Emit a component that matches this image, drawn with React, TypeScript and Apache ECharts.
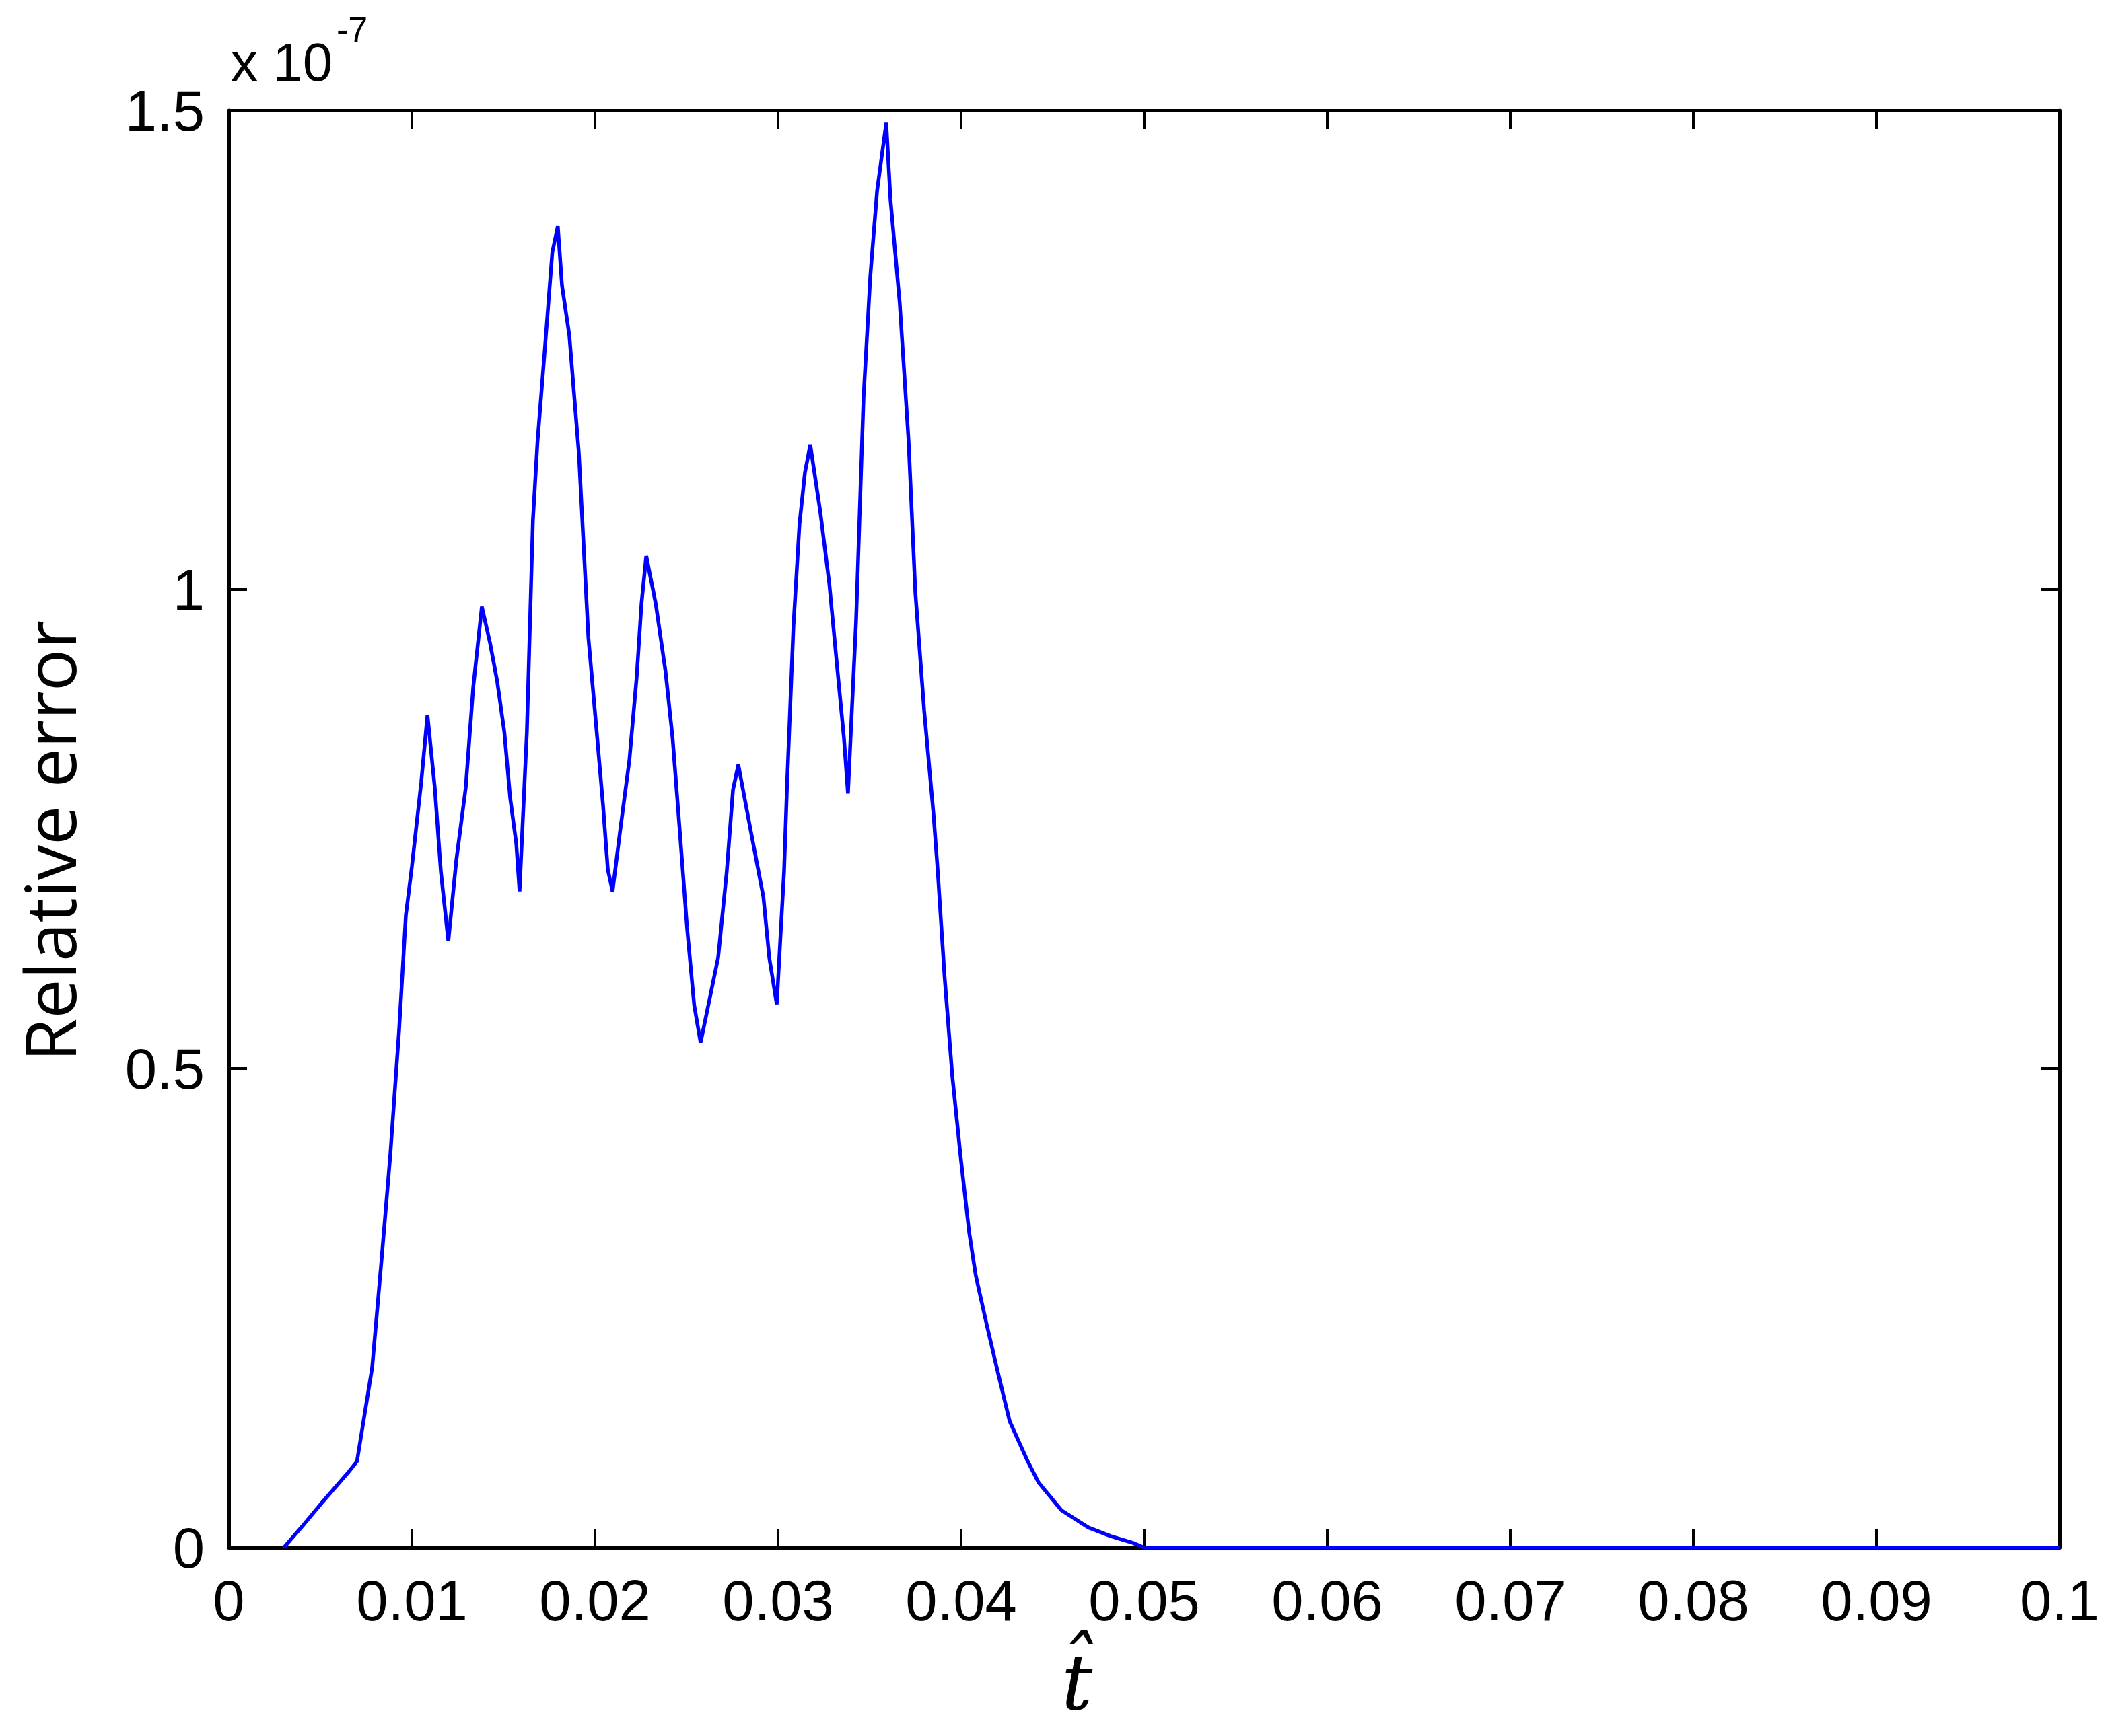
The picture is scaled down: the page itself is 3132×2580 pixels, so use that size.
import React, { useEffect, useRef } from "react";
import * as echarts from "echarts";

// time (t-hat) samples
const tValues: number[] = [
  0.003, 0.004, 0.005, 0.0065, 0.007, 0.00783, 0.00834, 0.00882, 0.0093, 0.00967,
  0.01, 0.01051, 0.01085, 0.01125, 0.01158, 0.01199, 0.01243, 0.01294, 0.01335, 0.01382,
  0.01427, 0.01466, 0.01505, 0.01537, 0.0157, 0.01588, 0.01628, 0.01661, 0.01686, 0.01727,
  0.01767, 0.01797, 0.0182, 0.0186, 0.01912, 0.01964, 0.02004, 0.02044, 0.0207, 0.02096,
  0.02136, 0.02188, 0.02228, 0.02254, 0.0228, 0.02332, 0.02385, 0.02424, 0.02464, 0.02503,
  0.02542, 0.02577, 0.02673, 0.0272, 0.02754, 0.02783, 0.02853, 0.0292, 0.02952, 0.02993,
  0.03033, 0.0305, 0.03084, 0.03117, 0.03147, 0.03176, 0.0323, 0.0328, 0.0332, 0.0336,
  0.03382, 0.03426, 0.03467, 0.03504, 0.03541, 0.03591, 0.03614, 0.03665, 0.03713, 0.0375,
  0.03798, 0.03849, 0.03873, 0.0391, 0.03952, 0.04, 0.04044, 0.0408, 0.04143, 0.04203,
  0.04265, 0.04364, 0.04423, 0.04548, 0.04695, 0.04816, 0.04938, 0.05, 0.1,
];

// relative error, in units of 1e-7
const errValues: number[] = [
  0, 0.022, 0.045, 0.078, 0.09, 0.188, 0.3, 0.41, 0.54, 0.66,
  0.711, 0.799, 0.869, 0.793, 0.706, 0.633, 0.718, 0.793, 0.898, 0.982,
  0.944, 0.904, 0.851, 0.782, 0.735, 0.685, 0.851, 1.072, 1.154, 1.253,
  1.352, 1.379, 1.317, 1.265, 1.142, 0.95, 0.863, 0.775, 0.708, 0.685,
  0.746, 0.822, 0.909, 0.985, 1.035, 0.985, 0.915, 0.845, 0.746, 0.647,
  0.566, 0.527, 0.616, 0.706, 0.791, 0.817, 0.746, 0.679, 0.616, 0.567,
  0.706, 0.8, 0.961, 1.068, 1.122, 1.151, 1.082, 1.006, 0.925, 0.845,
  0.787, 0.966, 1.2, 1.327, 1.416, 1.487, 1.407, 1.298, 1.155, 0.997,
  0.874, 0.766, 0.704, 0.595, 0.492, 0.403, 0.329, 0.284, 0.23, 0.181,
  0.132, 0.09, 0.068, 0.039, 0.021, 0.012, 0.005, 0, 0,
];

const xTickRange = { min: 0, max: 0.1, interval: 0.01 };
const yTickRange = { min: 0, max: 1.5, interval: 0.5 };

const TICK_FONT = "'Liberation Sans Narrow', 'Liberation Sans', Arial, sans-serif";

export default function App() {
  const ref = useRef<HTMLDivElement>(null);

  useEffect(() => {
    if (!ref.current) return;
    const chart = echarts.init(ref.current, undefined, { renderer: "svg" });

    const axisLine = { show: true, onZero: false, lineStyle: { color: "#000", width: 5 } };
    const axisTick = { show: true, inside: true, length: 27, lineStyle: { color: "#000", width: 4 } };
    const label = { color: "#000", fontSize: 85, fontFamily: TICK_FONT, margin: 36 };

    const data = tValues.map((t, i) => [t, errValues[i]]);

    chart.setOption({
      animation: false,
      backgroundColor: "#fff",
      grid: { left: 340, right: 72, top: 164, bottom: 280, containLabel: false },
      xAxis: [
        {
          type: "value",
          position: "bottom",
          ...xTickRange,
          axisLine,
          axisTick,
          axisLabel: label,
          splitLine: { show: false },
        },
        {
          type: "value",
          position: "top",
          ...xTickRange,
          axisLine,
          axisTick,
          axisLabel: { show: false },
          splitLine: { show: false },
        },
      ],
      yAxis: [
        {
          type: "value",
          position: "left",
          ...yTickRange,
          axisLine,
          axisTick,
          axisLabel: label,
          splitLine: { show: false },
        },
        {
          type: "value",
          position: "right",
          ...yTickRange,
          axisLine,
          axisTick,
          axisLabel: { show: false },
          splitLine: { show: false },
        },
      ],
      series: [
        {
          type: "line",
          xAxisIndex: 0,
          yAxisIndex: 0,
          data,
          showSymbol: false,
          symbol: "none",
          lineStyle: { color: "#0000ff", width: 5.5 },
          z: 5,
        },
      ],
      graphic: [
        {
          type: "text",
          x: 343,
          y: 92,
          style: {
            text: "x 10",
            fontSize: 80,
            fontFamily: TICK_FONT,
            fill: "#000",
            align: "left",
            verticalAlign: "middle",
          },
        },
        {
          type: "text",
          x: 500,
          y: 44,
          style: {
            text: "-7",
            fontSize: 52,
            fontFamily: TICK_FONT,
            fill: "#000",
            align: "left",
            verticalAlign: "middle",
          },
        },
        {
          type: "text",
          x: 72,
          y: 1250,
          rotation: Math.PI / 2,
          style: {
            text: "Relative error",
            fontSize: 104,
            fontFamily: "'Open Sans', 'Noto Sans', sans-serif",
            fill: "#000",
            align: "center",
            verticalAlign: "middle",
          },
        },
        {
          type: "text",
          x: 1600,
          y: 2500,
          style: {
            text: "t\u0302",
            fontSize: 115,
            fontStyle: "italic",
            fontFamily: "'DejaVu Serif', 'Liberation Serif', serif",
            fill: "#000",
            align: "center",
            verticalAlign: "middle",
          },
        },
      ],
    });

    return () => chart.dispose();
  }, []);

  return (
    <div
      ref={ref}
      style={{ position: "fixed", left: 0, top: 0, width: 3132, height: 2580, background: "#fff" }}
    />
  );
}
